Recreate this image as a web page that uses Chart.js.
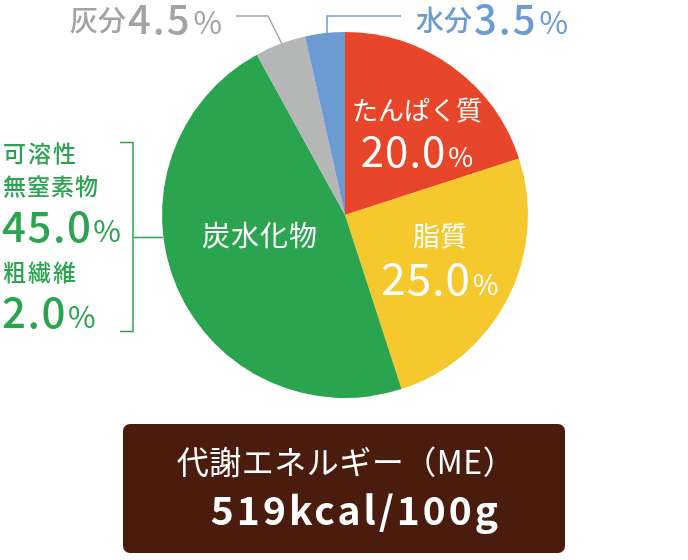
<!DOCTYPE html>
<html>
<head>
<meta charset="utf-8">
<script src="https://cdn.jsdelivr.net/npm/chart.js@4.4.0/dist/chart.umd.min.js"></script>
<style>
  body { margin: 0; background: #fff; }
  canvas { display: block; }
</style>
</head>
<body>
<canvas id="myChart" width="688" height="560"></canvas>
<script>
// 成分の割合 (%)
const categories = ['たんぱく質', '脂質', '炭水化物', '灰分', '水分'];
const values = [20.0, 25.0, 47.0, 4.5, 3.5];
const colors = ['#e8462a', '#f5c82e', '#2ba44f', '#b5b6b6', '#6b9bd2'];

// 炭水化物の内訳
const carbParts = [['可溶性', '無窒素物'], ['粗繊維']];
const carbValues = [45.0, 2.0];

// 代謝エネルギー
const energyTitle = '代謝エネルギー（ME）';
const energyValue = '519kcal/100g';

const FONT = '"Noto Sans CJK JP", "Noto Sans", sans-serif';

function fmt(v) { return v.toFixed(1); }

// 名前+数値+% を一列で描く
function drawRun(ctx, x, parts, align) {
    let widths = parts.map(p => {
        ctx.font = p.font;
        ctx.letterSpacing = p.ls || '0px';
        return ctx.measureText(p.t).width + (p.gap || 0);
    });
    let total = widths.reduce((a, b) => a + b, 0);
    let cx = align === 'center' ? x - total / 2 : x;
    parts.forEach((p, i) => {
        ctx.font = p.font;
        ctx.letterSpacing = p.ls || '0px';
        ctx.textBaseline = p.base || 'alphabetic';
        ctx.textAlign = 'left';
        ctx.fillText(p.t, cx, p.y);
        cx += widths[i];
    });
    ctx.letterSpacing = '0px';
}

const labelPlugin = {
    id: 'labels',
    afterDraw(chart) {
        const ctx = chart.ctx;
        const arc = chart.getDatasetMeta(0).data[0];
        const cx = arc.x, cy = arc.y, r = arc.outerRadius;
        ctx.save();

        // 円の中のラベル
        ctx.fillStyle = '#fff';
        ctx.textAlign = 'center';
        ctx.textBaseline = 'middle';
        ctx.font = '400 26px ' + FONT;
        ctx.fillText(categories[0], cx + 72, cy - 105);
        drawRun(ctx, cx + 72, [
            { t: fmt(values[0]), font: '400 42px ' + FONT, y: cy - 48, ls: '1px', gap: 2 },
            { t: '%', font: '400 27px ' + FONT, y: cy - 48 }
        ], 'center');

        ctx.textAlign = 'center';
        ctx.textBaseline = 'middle';
        ctx.font = '400 27px ' + FONT;
        ctx.fillText(categories[1], cx + 95, cy + 21);
        drawRun(ctx, cx + 95, [
            { t: fmt(values[1]), font: '400 44px ' + FONT, y: cy + 80, ls: '1px', gap: 2 },
            { t: '%', font: '400 28px ' + FONT, y: cy + 80 }
        ], 'center');

        ctx.textAlign = 'center';
        ctx.textBaseline = 'middle';
        ctx.font = '400 28px ' + FONT;
        ctx.letterSpacing = '1px';
        ctx.fillText(categories[2], cx - 85, cy + 20);
        ctx.letterSpacing = '0px';

        // 灰分
        ctx.fillStyle = '#a3a3a3';
        drawRun(ctx, 70, [
            { t: categories[3], font: '500 28px ' + FONT, y: 20, base: 'middle', gap: 2 },
            { t: String(values[3]), font: '500 40px ' + FONT, y: 34, ls: '2px', gap: 2 },
            { t: '%', font: '400 31px ' + FONT, y: 34 }
        ]);
        ctx.strokeStyle = '#a3a3a3';
        ctx.lineWidth = 1.5;
        ctx.beginPath();
        ctx.moveTo(236, 16);
        ctx.lineTo(268, 16);
        ctx.lineTo(282, 44);
        ctx.stroke();

        // 水分
        ctx.fillStyle = '#6b9bd2';
        drawRun(ctx, 416, [
            { t: categories[4], font: '500 28px ' + FONT, y: 20, base: 'middle', gap: 2 },
            { t: String(values[4]), font: '500 40px ' + FONT, y: 34, ls: '2px', gap: 2 },
            { t: '%', font: '400 31px ' + FONT, y: 34 }
        ]);
        ctx.strokeStyle = '#6b9bd2';
        ctx.beginPath();
        ctx.moveTo(327, 35);
        ctx.lineTo(327, 16);
        ctx.lineTo(401, 16);
        ctx.stroke();

        // 炭水化物の内訳
        ctx.fillStyle = '#2ba44f';
        ctx.textAlign = 'left';
        ctx.textBaseline = 'middle';
        ctx.font = '500 23px ' + FONT;
        ctx.letterSpacing = '2px';
        ctx.fillText(carbParts[0][0], 3, 153);
        ctx.letterSpacing = '1px';
        ctx.fillText(carbParts[0][1], 3, 186);
        ctx.letterSpacing = '2px';
        ctx.fillText(carbParts[1][0], 3, 272);
        ctx.letterSpacing = '0px';
        drawRun(ctx, 2, [
            { t: fmt(carbValues[0]), font: '500 42px ' + FONT, y: 242, ls: '1.5px', gap: 1 },
            { t: '%', font: '400 30px ' + FONT, y: 242 }
        ]);
        drawRun(ctx, 2, [
            { t: fmt(carbValues[1]), font: '500 42px ' + FONT, y: 328, ls: '1.5px', gap: 1 },
            { t: '%', font: '400 30px ' + FONT, y: 328 }
        ]);
        ctx.strokeStyle = '#2ba44f';
        ctx.beginPath();
        ctx.moveTo(120, 142.5);
        ctx.lineTo(133, 142.5);
        ctx.lineTo(133, 331.5);
        ctx.lineTo(120, 331.5);
        ctx.moveTo(133, 237.5);
        ctx.lineTo(cx - r + 1, 237.5);
        ctx.stroke();

        // 代謝エネルギーの箱
        ctx.fillStyle = '#4a1c0e';
        ctx.beginPath();
        ctx.roundRect(123, 424, 442, 129, 7);
        ctx.fill();
        ctx.fillStyle = '#fff';
        ctx.textAlign = 'center';
        ctx.textBaseline = 'middle';
        ctx.font = '400 32px ' + FONT;
        ctx.letterSpacing = '0.5px';
        ctx.fillText(energyTitle, 346, 462);
        ctx.textBaseline = 'alphabetic';
        ctx.font = '700 39px ' + FONT;
        ctx.letterSpacing = '3px';
        ctx.fillText(energyValue, 356, 525);
        ctx.letterSpacing = '0px';

        ctx.restore();
    }
};

const ctx = document.getElementById('myChart').getContext('2d');
const myChart = new Chart(ctx, {
    type: 'pie',
    data: {
        labels: categories,
        datasets: [{
            data: values,
            backgroundColor: colors,
            borderWidth: 0
        }]
    },
    options: {
        responsive: false,
        animation: false,
        layout: {
            padding: { left: 162, right: 160, top: 32, bottom: 162 }
        },
        plugins: {
            legend: { display: false },
            tooltip: { enabled: false }
        }
    },
    plugins: [labelPlugin]
});
</script>
</body>
</html>
